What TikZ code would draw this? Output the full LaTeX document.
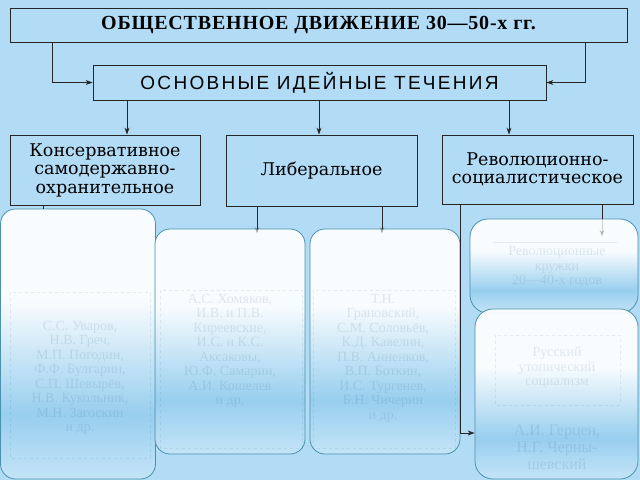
\documentclass[tikz,border=0pt]{standalone}
\usepackage{fontspec}
\setmainfont{Liberation Serif}
\newfontfamily\headfont[LetterSpace=4]{Liberation Serif}
\newfontfamily\capsfont[LetterSpace=12]{Liberation Sans}
\newfontfamily\kindfont{DejaVu Serif}
\usetikzlibrary{arrows.meta, positioning, calc}
\definecolor{bgblue}{RGB}{178,219,245}
\definecolor{cardedge}{RGB}{74,146,172}
\definecolor{cardblue}{RGB}{150,206,238}
\definecolor{cardlow}{RGB}{198,229,248}
\definecolor{ghost}{RGB}{40,90,130}
\pgfdeclareverticalshading{card}{100bp}{color(0bp)=(cardlow); color(25bp)=(cardlow); color(37bp)=(cardblue); color(58bp)=(white); color(75bp)=(white); color(100bp)=(white)}

\tikzset{
  frame/.style={draw=black!85, line width=0.8pt, align=center, inner sep=2pt},
  kind/.style={frame, font=\kindfont\fontsize{17.5}{18.5}\selectfont},
  card/.style={draw=cardedge, line width=0.8pt, rounded corners=15pt, shading=card, fill opacity=0.92},
  names/.style={text=ghost, text opacity=0.13, font=\fontsize{14}{14.5}\selectfont, align=center},
  ghostline/.style={draw=ghost, opacity=0.1, dashed, line width=0.6pt},
  arr/.style={-{Stealth[length=7pt, width=5pt]}, line width=0.8pt, draw=black!85},
}

\begin{document}
\begin{tikzpicture}[x=1pt, y=-1pt]
    \fill[bgblue] (0,0) rectangle (640,480);
    \useasboundingbox (0,0) rectangle (640,480);

    % top of the scheme
    \node[frame, minimum width=617pt, minimum height=34pt, font=\headfont\bfseries\fontsize{20}{21}\selectfont] (title) at (318.5,25) {ОБЩЕСТВЕННОЕ ДВИЖЕНИЕ 30—50-х гг.};
    \node[frame, minimum width=453pt, minimum height=35pt, font=\capsfont\fontsize{19}{20}\selectfont] (ideas) at (319.5,82.5) {ОСНОВНЫЕ ИДЕЙНЫЕ ТЕЧЕНИЯ};

    \node[kind, minimum width=190pt, minimum height=70pt] (cons) at (105,170) {Консервативное\\самодержавно-\\охранительное};
    \node[kind, minimum width=191pt, minimum height=71pt] (lib) at (321.5,170.5) {Либеральное};
    \node[kind, minimum width=191pt, minimum height=69pt] (rev) at (537.5,169.5) {Революционно-\\социалистическое};

    % columns of the connectors
    \coordinate (k0) at (43,0);
    \coordinate (k1) at (127,0);
    \coordinate (k2) at (319,0);
    \coordinate (k3) at (509,0);
    \coordinate (k4) at (257,0);
    \coordinate (k5) at (382,0);
    \coordinate (k6) at (460,0);
    \coordinate (k7) at (602,0);
    \coordinate (k8) at (0,433);

    \draw[arr] ([xshift=43pt]title.south west) |- (ideas.west);
    \draw[arr] ([xshift=-42pt]title.south east) |- (ideas.east);
    \draw[arr] (ideas.south -| k1) -- (cons.north -| k1);
    \draw[arr] (ideas.south -| k2) -- (lib.north -| k2);
    \draw[arr] (ideas.south -| k3) -- (rev.north -| k3);

    % cards over the lower part
    \node[card, minimum width=155pt, minimum height=270pt] (c1) at (78,344) {};
    \draw[line width=0.8pt, black!85] (cons.south -| k0) -- (c1.north -| k0);
    \node[card, minimum width=150pt, minimum height=225pt] (c2) at (230,341.5) {};
    \node[card, minimum width=150pt, minimum height=225pt] (c3) at (385,341.5) {};
    \node[card, minimum width=168pt, minimum height=94pt, rounded corners=18pt] (c4) at (554,266) {};
    \node[card, minimum width=163pt, minimum height=170pt, rounded corners=18pt] (c5) at (556.5,394) {};

    \draw[line width=0.8pt, black!85] (lib.south -| k4) -- (c2.north -| k4);
    \draw[line width=0.8pt, black!85] (lib.south -| k5) -- (c3.north -| k5);
    \draw[arr, opacity=0.25] (c2.north -| k4) -- ([yshift=-5pt]c2.north -| k4);
    \draw[arr, opacity=0.25] (c3.north -| k5) -- ([yshift=-5pt]c3.north -| k5);
    \draw[arr] (rev.south -| k6) |- (c5.west |- k8);
    \draw[line width=0.8pt, black!85] (rev.south -| k7) -- (c4.north -| k7);
    \draw[arr, opacity=0.2] (c4.north -| k7) -- ([yshift=-18pt]c4.north -| k7);

    % what shows through the cards
    \draw[ghostline] (10,292) rectangle (150,458);
    \draw[ghostline] (160,290) rectangle (302,448);
    \draw[ghostline] (313,290) rectangle (455,448);
    \draw[ghostline] (495,335) rectangle (620,405);
    \draw[ghostline, solid] (493,242) -- (617,242);

    \node[names] (n1) at (80,378) {С.С. Уваров,\\Н.В. Греч,\\М.П. Погодин,\\Ф.Ф. Булгарин,\\С.П. Шевырёв,\\Н.В. Кукольник,\\М.Н. Загоскин\\и др.};
    \node[names] (n2) at (230,351) {А.С. Хомяков,\\И.В. и П.В.\\Киреевские,\\И.С. и К.С.\\Аксаковы,\\Ю.Ф. Самарин,\\А.И. Кошелев\\и др.};
    \node[names] (n3) at (383,358) {Т.Н.\\Грановский,\\С.М. Соловьёв,\\К.Д. Кавелин,\\П.В. Анненков,\\В.П. Боткин,\\И.С. Тургенев,\\Б.Н. Чичерин\\и др.};
    \node[names] (n4) at (557,267) {Революционные\\кружки\\20—40-х годов};
    \node[names] (n5) at (557,368) {Русский\\утопический\\социализм};
    \node[names, font=\fontsize{16}{17}\selectfont] (n6) at (557,447) {А.И. Герцен,\\Н.Г. Черны-\\шевский};
\end{tikzpicture}
\end{document}
